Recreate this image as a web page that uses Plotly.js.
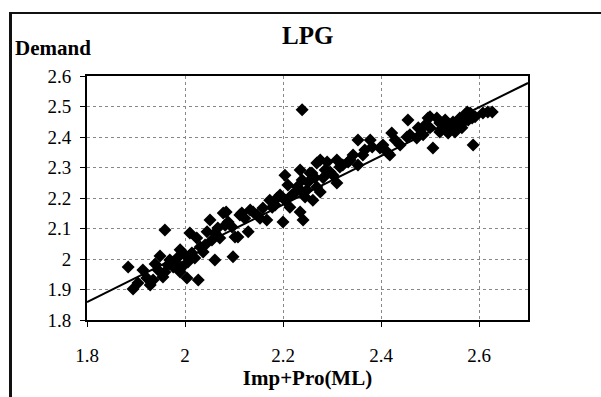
<!DOCTYPE html>
<html>
<head>
<meta charset="utf-8">
<script src="https://cdn.plot.ly/plotly-3.0.1.min.js"></script>
<style>
  html, body { margin: 0; padding: 0; background: #fff; }
  #wrap { position: relative; width: 601px; height: 397px; overflow: hidden; }
  #chart { position: absolute; left: 0; top: 0; width: 601px; height: 397px; }
  #frame { position: absolute; left: 9px; top: 12px; width: 600px; height: 400px;
           border-top: 2px solid #111; border-left: 3px solid #111; pointer-events: none; }
</style>
</head>
<body>
<div id="wrap"><div id="chart"></div><div id="frame"></div></div>
<script>
// Data
const impPro = [
  1.884,1.894,1.914,1.922,1.935,1.939,1.949,1.959,1.959,1.969,
  1.976,1.984,1.990,1.994,2.004,2.010,2.014,2.024,2.027,2.031,
  2.037,2.051,2.061,2.061,2.078,2.082,2.096,2.102,2.116,2.129,
  2.139,2.159,2.167,2.178,2.188,2.200,2.204,2.204,2.214,2.224,
  2.229,2.235,2.235,2.241,2.245,2.251,2.259,2.261,2.269,2.269,
  2.239,2.455,2.353,2.378,2.404,2.422,2.439,2.453,2.473,2.418,
  2.398,2.363,2.343,2.333,2.353,2.310,2.290,2.276,2.296,2.255,
  2.316,2.282,2.310,2.276,2.500,2.500,2.506,2.486,2.520,2.531,
  2.535,2.541,2.547,2.555,2.561,2.567,2.571,2.578,2.582,2.586,
  2.592,2.588,2.608,2.618,2.627,2.551,2.537,2.520,2.565,2.576,
  2.490,2.496,2.514,2.414,2.402,2.098,2.108,2.112,2.153,1.945,
  1.955,1.965,1.980,2.000,2.006,2.020,2.041,2.045,2.055,2.067,
  2.071,2.088,2.122,2.133,2.147,2.173,2.184,2.194,2.218,2.235,
  2.249,2.265,2.286,2.302,2.322,2.337,2.367,2.382,2.429,2.459,
  2.476,1.929,1.904,1.990,2.084,2.210,2.239
];
const demand = [
  1.974,1.902,1.964,1.938,1.931,1.984,2.010,2.095,1.957,1.997,
  1.974,2.003,2.030,1.974,1.938,2.085,2.020,2.069,1.931,2.039,
  2.023,2.128,2.085,1.997,2.151,2.111,2.105,2.072,2.151,2.089,
  2.154,2.167,2.128,2.170,2.200,2.121,2.275,2.193,2.170,2.216,
  2.236,2.292,2.154,2.128,2.203,2.252,2.282,2.193,2.236,2.315,
  2.489,2.456,2.390,2.390,2.374,2.413,2.374,2.400,2.397,2.341,
  2.364,2.341,2.341,2.318,2.308,2.325,2.318,2.325,2.285,2.282,
  2.302,2.266,2.249,2.220,2.466,2.430,2.364,2.407,2.416,2.456,
  2.430,2.439,2.449,2.433,2.462,2.446,2.472,2.456,2.479,2.462,
  2.466,2.374,2.479,2.482,2.482,2.416,2.413,2.446,2.430,2.482,
  2.439,2.462,2.462,2.348,2.367,2.007,2.072,2.144,2.134,1.964,
  1.941,1.980,1.990,2.013,1.990,2.003,2.046,2.089,2.062,2.102,
  2.069,2.121,2.134,2.161,2.144,2.193,2.177,2.210,2.210,2.226,
  2.226,2.266,2.292,2.275,2.308,2.325,2.357,2.367,2.390,2.407,
  2.430,1.915,1.921,1.957,2.154,2.243,2.259
];
// Fitted trend line end points
const trendX = [1.8, 2.7];
const trendY = [1.859, 2.577];

const xTicks = [1.8, 2.0, 2.2, 2.4, 2.6];
const xTickText = ["1.8", "2", "2.2", "2.4", "2.6"];
const yTicks = [1.8, 1.9, 2.0, 2.1, 2.2, 2.3, 2.4, 2.5, 2.6];
const yTickText = ["1.8", "1.9", "2", "2.1", "2.2", "2.3", "2.4", "2.5", "2.6"];

const serif = "Liberation Serif, Times New Roman, serif";

const traces = [
  {
    x: impPro, y: demand, type: "scatter", mode: "markers",
    marker: { symbol: "diamond", size: 10, color: "#000" },
    hoverinfo: "skip", showlegend: false
  },
  {
    x: trendX, y: trendY, type: "scatter", mode: "lines",
    line: { color: "#000", width: 2 },
    hoverinfo: "skip", showlegend: false
  }
];

const layout = {
  width: 601, height: 397,
  margin: { l: 87, r: 73, t: 76, b: 77 },
  paper_bgcolor: "#fff", plot_bgcolor: "#fff",
  showlegend: false,
  font: { family: serif, color: "#000", size: 18 },
  title: {
    text: "<b>LPG</b>", font: { family: serif, size: 25, color: "#000" },
    x: 0.512, xanchor: "center", y: 0.91, yanchor: "middle"
  },
  xaxis: {
    range: [1.8, 2.7], tickvals: xTicks, ticktext: xTickText,
    showline: true, linecolor: "#000", linewidth: 2, mirror: true,
    ticks: "outside", ticklen: 5, tickcolor: "#000", tickwidth: 1,
    ticklabelstandoff: 12,
    showgrid: true, gridcolor: "#888", gridwidth: 1, griddash: "dot",
    zeroline: false,
    tickfont: { family: serif, size: 19, color: "#000" },
    title: { text: "<b>Imp+Pro(ML)</b>", font: { family: serif, size: 21, color: "#000" }, standoff: 4 }
  },
  yaxis: {
    range: [1.8, 2.6], tickvals: yTicks, ticktext: yTickText,
    showline: true, linecolor: "#000", linewidth: 2, mirror: true,
    ticks: "outside", ticklen: 5, tickcolor: "#000", tickwidth: 1,
    ticklabelstandoff: 5,
    showgrid: true, gridcolor: "#888", gridwidth: 1, griddash: "dot",
    zeroline: false,
    tickfont: { family: serif, size: 19, color: "#000" }
  },
  annotations: [
    {
      text: "<b>Demand</b>", xref: "paper", yref: "paper",
      x: -0.168, y: 1.115, xanchor: "left", yanchor: "middle",
      showarrow: false, font: { family: serif, size: 21, color: "#000" }
    }
  ]
};

Plotly.newPlot("chart", traces, layout, { displayModeBar: false, staticPlot: true });
</script>
</body>
</html>
